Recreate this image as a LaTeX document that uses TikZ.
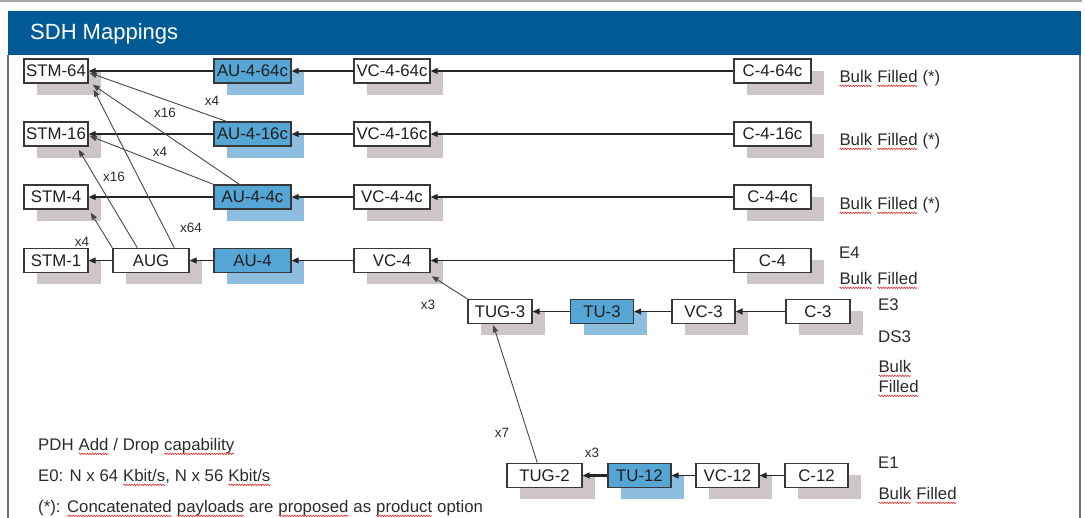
\documentclass[tikz,border=0pt]{standalone}
\usepackage{fontspec}
\setmainfont{Liberation Sans}
\usetikzlibrary{arrows.meta,calc,shadows,decorations.pathmorphing}
\definecolor{hdrblue}{HTML}{005A96}
\definecolor{aublue}{HTML}{55A5D5}
\definecolor{aushadow}{HTML}{8DBEE0}
\definecolor{greyshadow}{HTML}{CEC6C6}
\definecolor{framegrey}{HTML}{6E6E6E}
\definecolor{linegrey}{HTML}{A6A6A6}
\definecolor{txt}{HTML}{2B2B2B}
\definecolor{spellred}{HTML}{E03030}
\newcommand\sqw[1]{\tikz[baseline=(w.base)]{\node[inner sep=0pt,outer sep=0pt](w){#1};
  \draw[spellred, line width=0.6pt, decorate, decoration={snake, amplitude=0.8pt, segment length=2.6pt}]
    ([yshift=-3.2pt]w.base west) -- ([yshift=-3.2pt]w.base east);}}
\begin{document}
\begin{tikzpicture}[x=1pt,y=-1pt,
  boxbase/.style={draw=black!78, line width=1.4pt, minimum height=24pt, inner sep=0pt,
    font=\fontsize{16.8}{18}\selectfont, text=black!88},
  wbox/.style={boxbase, fill=white,
    drop shadow={shadow xshift=13pt,shadow yshift=-12pt,fill=greyshadow,opacity=1}},
  bbox/.style={boxbase, fill=aublue,
    drop shadow={shadow xshift=13pt,shadow yshift=-12pt,fill=aushadow,opacity=1}},
  lbl/.style={anchor=mid west, inner sep=0pt, text=txt, font=\fontsize{16.8}{18}\selectfont},
  mult/.style={anchor=mid, inner sep=0pt, text=txt, font=\fontsize{13.5}{15}\selectfont},
  conn/.style={draw=black!85, line width=1.1pt, -{Triangle[length=7pt,width=6pt]}},
  thick conn/.style={draw=black!85, line width=2.4pt, -{Triangle[length=7pt,width=6pt]}},
  diag/.style={draw=black!72, line width=0.9pt, -{Triangle[length=7pt,width=5.5pt]}}
]
\useasboundingbox (0,0) rectangle (1085,518);
% frame and header
\draw[linegrey, line width=2pt] (0,1) -- (1082,1);
\fill[hdrblue] (8,11) rectangle (1081,55);
\node[anchor=mid west, inner sep=0pt, text=white, font=\fontsize{22}{26}\selectfont] (title) at (30,36.5) {SDH Mappings};
\draw[framegrey, line width=2pt] (8,55) -- (8,518);
\draw[framegrey, line width=2pt] (1080,55) -- (1080,518);

% row 1
\node[wbox, minimum width=64pt] (stm64) at (56,71) {STM-64};
\node[bbox, minimum width=77pt] (au464) at (252.5,71) {AU-4-64c};
\node[wbox, minimum width=76pt] (vc464) at (392,71) {VC-4-64c};
\node[wbox, minimum width=77pt] (c464) at (772.5,71) {C-4-64c};
% row 2
\node[wbox, minimum width=64pt] (stm16) at (56,134) {STM-16};
\node[bbox, minimum width=77pt] (au416) at (252.5,134) {AU-4-16c};
\node[wbox, minimum width=76pt] (vc416) at (392,134) {VC-4-16c};
\node[wbox, minimum width=77pt] (c416) at (772.5,134) {C-4-16c};
% row 3
\node[wbox, minimum width=64pt] (stm4) at (56,197) {STM-4};
\node[bbox, minimum width=77pt] (au44) at (252.5,197) {AU-4-4c};
\node[wbox, minimum width=76pt] (vc44) at (392,197) {VC-4-4c};
\node[wbox, minimum width=77pt] (c44) at (772.5,197) {C-4-4c};
% row 4
\node[wbox, minimum width=64pt] (stm1) at (56,260.5) {STM-1};
\node[wbox, minimum width=76pt] (aug) at (151,260.5) {AUG};
\node[bbox, minimum width=77pt] (au4) at (252.5,260.5) {AU-4};
\node[wbox, minimum width=76pt] (vc4) at (392,260.5) {VC-4};
\node[wbox, minimum width=77pt] (c4) at (772.5,260.5) {C-4};
% row TUG-3
\node[wbox, minimum width=64pt] (tug3) at (500,311.5) {TUG-3};
\node[bbox, minimum width=63pt] (tu3) at (602,311.5) {TU-3};
\node[wbox, minimum width=63pt] (vc3) at (703.5,311.5) {VC-3};
\node[wbox, minimum width=64pt] (c3) at (818,311.5) {C-3};
% row TUG-2
\node[wbox, minimum width=75pt] (tug2) at (544.5,475.5) {TUG-2};
\node[bbox, minimum width=63pt] (tu12) at (639.5,475.5) {TU-12};
\node[wbox, minimum width=63pt] (vc12) at (727.5,475.5) {VC-12};
\node[wbox, minimum width=63pt] (c12) at (816.5,475.5) {C-12};

% horizontal connectors
\draw[conn] (c464.west) -- (vc464.east);
\draw[conn] (vc464.west) -- (au464.east);
\draw[conn] (au464.west) -- (stm64.east);
\draw[conn] (c416.west) -- (vc416.east);
\draw[conn] (vc416.west) -- (au416.east);
\draw[conn] (au416.west) -- (stm16.east);
\draw[conn] (c44.west) -- (vc44.east);
\draw[conn] (vc44.west) -- (au44.east);
\draw[conn] (au44.west) -- (stm4.east);
\draw[conn] (c4.west) -- (vc4.east);
\draw[conn] (vc4.west) -- (au4.east);
\draw[conn] (au4.west) -- (aug.east);
\draw[conn] (aug.west) -- (stm1.east);
\draw[conn, line width=1.6pt] (c3.west) -- (vc3.east);
\draw[conn] (vc3.west) -- (tu3.east);
\draw[conn] (tu3.west) -- (tug3.east);
\draw[conn] (c12.west) -- (vc12.east);
\draw[conn] (vc12.west) -- (tu12.east);
\draw[thick conn] (tu12.west) -- (tug2.east);

% diagonal connectors
\draw[diag] ($(au416.north west)+(13,0)$) -- ($(stm64.east)+(1,2)$);
\draw[diag] ($(au44.north west)+(26,0)$) -- ($(stm64.south east)+(4,1)$);
\draw[diag] (au44.north west) -- ($(stm16.east)+(1,2)$);
\draw[diag] ($(aug.north west)+(25,0)$) -- ($(stm16.south east)+(-10,3)$);
\draw[diag] ($(aug.north west)+(62,0)$) -- ($(stm64.south east)+(5,6)$);
\draw[diag] (aug.north west) -- ($(stm4.south east)+(2,3)$);
\draw[diag] (tug3.north west) -- ($(vc4.south east)+(1,3)$);
\draw[diag] ($(tug2.north west)+(31,0)$) -- ($(tug3.south west)+(26,1)$);

% multiplier labels
\node[mult] (m1) at (212,103) {x4};
\node[mult] (m2) at (165,115) {x16};
\node[mult] (m3) at (160,154) {x4};
\node[mult] (m4) at (114,179) {x16};
\node[mult] (m5) at (191,230) {x64};
\node[mult] (m6) at (82,244) {x4};
\node[mult] (m7) at (428,307) {x3};
\node[mult] (m8) at (502,435) {x7};
\node[mult] (m9) at (592,455) {x3};

% right-hand labels
\node[lbl] (l1) at (839,80) {\sqw{Bulk} \sqw{Filled} (*)};
\node[lbl] (l2) at (839,143) {\sqw{Bulk} \sqw{Filled} (*)};
\node[lbl] (l3) at (839,207) {\sqw{Bulk} \sqw{Filled} (*)};
\node[lbl] (l4) at (839,256) {E4};
\node[lbl] (l5) at (839,282) {\sqw{Bulk} \sqw{Filled}};
\node[lbl] (l6) at (878,308) {E3};
\node[lbl] (l7) at (878,340) {DS3};
\node[lbl] (l8) at (878,370) {\sqw{Bulk}};
\node[lbl] (l9) at (878,390) {\sqw{Filled}};
\node[lbl] (l10) at (878,466) {E1};
\node[lbl] (l11) at (878,497) {\sqw{Bulk} \sqw{Filled}};

% notes
\node[lbl] (n1) at (38,448) {PDH \sqw{Add} / Drop \sqw{capability}};
\node[lbl] (n2) at (38,479) {E0: N x 64 \sqw{Kbit/s}, N x 56 \sqw{Kbit/s}};
\node[lbl] (n3) at (38,510) {(*): \sqw{Concatenated} \sqw{payloads} are \sqw{proposed} as \sqw{product} option};
\end{tikzpicture}
\end{document}
